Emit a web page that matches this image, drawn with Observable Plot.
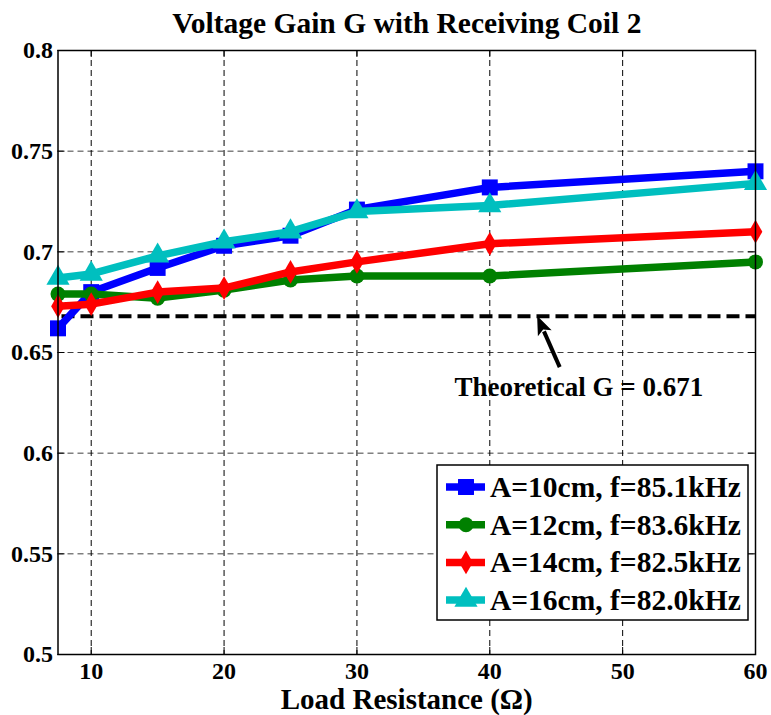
<!DOCTYPE html>
<html><head><meta charset="utf-8">
<script src="https://cdn.jsdelivr.net/npm/d3@7"></script>
<script src="https://cdn.jsdelivr.net/npm/@observablehq/plot@0.6"></script>
<style>
body{margin:0;background:#fff;}
#chart{width:771px;height:715px;}
</style>
</head><body><div id="chart"></div>
<script>
// ---- data ----
const resistance = [7.5, 10, 15, 20, 25, 30, 40, 60];
const gainA10 = [0.662, 0.680, 0.692, 0.703, 0.708, 0.721, 0.732, 0.740];
const gainA12 = [0.679, 0.679, 0.677, 0.681, 0.686, 0.688, 0.688, 0.695];
const gainA14 = [0.673, 0.674, 0.680, 0.682, 0.690, 0.695, 0.704, 0.710];
const gainA16 = [0.687, 0.689, 0.698, 0.705, 0.710, 0.720, 0.723, 0.734];
const seriesNames = ["A=10cm, f=85.1kHz", "A=12cm, f=83.6kHz", "A=14cm, f=82.5kHz", "A=16cm, f=82.0kHz"];
const seriesColors = ["#0000ff", "#008000", "#ff0000", "#00bfbf"];
const seriesSymbols = ["square", "circle", "diamond", "triangle"];
const seriesRadius = [9, 7.5, 7.2, 8.6];
const xTicks = [10, 20, 30, 40, 50, 60];
const yTicks = [0.5, 0.55, 0.6, 0.65, 0.7, 0.75, 0.8];
const titleText = "Voltage Gain G with Receiving Coil 2";
const xLabel = "Load Resistance (\u03A9)";
const theoreticalLevel = [0.668];
const theoreticalSpan = [7.8, 60];
const theoreticalText = "Theoretical G = 0.671";
const arrowTail = [45.3, 0.6425];
const arrowTip = [43.6, 0.668];
const annotationAt = [46.7, 0.6328];

const gains = [gainA10, gainA12, gainA14, gainA16];
const series = seriesNames.map((name, i) => ({
  name, color: seriesColors[i], symbol: seriesSymbols[i], r: seriesRadius[i],
  rows: resistance.map((x, j) => ({x, y: gains[i][j]}))
}));

const FONT = "'Liberation Serif', 'Times New Roman', Times, serif";
const W = 771, H = 715, ML = 57.5, MR = 16, MT = 50, MB = 61;
const FW = W - ML - MR, FH = H - MT - MB;
const TICK_FS = 24;
const fmtY = d => String(+d.toFixed(2));

const marks = [
  Plot.gridX(xTicks, {stroke: "#000", strokeOpacity: 1, strokeWidth: 1, strokeDasharray: "6,4"}),
  Plot.gridY(yTicks, {stroke: "#000", strokeOpacity: 0.75, strokeWidth: 1, strokeDasharray: "6,4"}),
  // inward ticks on all four sides
  Plot.tickX(xTicks, {x: d => d, insetTop: FH - 7, stroke: "#000", strokeWidth: 1}),
  Plot.tickX(xTicks, {x: d => d, insetBottom: FH - 7, stroke: "#000", strokeWidth: 1}),
  Plot.tickY(yTicks, {y: d => d, insetRight: FW - 7, stroke: "#000", strokeWidth: 1}),
  Plot.tickY(yTicks, {y: d => d, insetLeft: FW - 7, stroke: "#000", strokeWidth: 1}),
  // tick labels (as text marks positioned by the scales)
  Plot.text(xTicks, {x: d => d, frameAnchor: "bottom", dy: 7, lineAnchor: "top", textAnchor: "middle", text: d => String(d), fontSize: TICK_FS, fontWeight: "bold", fill: "#000"}),
  Plot.text(yTicks, {y: d => d, frameAnchor: "left", dx: -5, lineAnchor: "middle", textAnchor: "end", text: fmtY, fontSize: TICK_FS, fontWeight: "bold", fill: "#000"}),
  Plot.ruleY(theoreticalLevel, {x1: theoreticalSpan[0], x2: theoreticalSpan[1], stroke: "#000", strokeWidth: 4, strokeDasharray: "13,6"})
];
for (const s of series) {
  marks.push(Plot.line(s.rows, {x: "x", y: "y", stroke: s.color, strokeWidth: 7.5, strokeLinejoin: "round"}));
  marks.push(Plot.dot(s.rows, {x: "x", y: "y", symbol: s.symbol, r: s.r, fill: s.color, stroke: "none"}));
}
marks.push(
  Plot.text([theoreticalText], {x: annotationAt[0], y: annotationAt[1], text: d => d, fontSize: 27, fontWeight: "bold", fill: "#000", textAnchor: "middle", lineAnchor: "middle"}),
  Plot.text([titleText], {frameAnchor: "top", dy: -27, text: d => d, fontSize: 29.5, fontWeight: "bold", fill: "#000", lineAnchor: "middle"}),
  Plot.text([xLabel], {frameAnchor: "bottom", dy: 45, text: d => d, fontSize: 29, fontWeight: "bold", fill: "#000", lineAnchor: "middle"}),
  Plot.frame({stroke: "#000", strokeWidth: 1.5})
);

const plot = Plot.plot({
  width: W, height: H,
  marginLeft: ML, marginRight: MR, marginTop: MT, marginBottom: MB,
  x: {domain: [7.5, 60], axis: null},
  y: {domain: [0.5, 0.8], axis: null},
  style: {fontFamily: FONT, fontWeight: "bold", background: "#fff", color: "#000", overflow: "visible"},
  marks
});

const svg = d3.select(plot);

// arrow (shaft + filled head) using the plot's own scales
const sx = plot.scale("x"), sy = plot.scale("y");
const tx = sx.apply(arrowTail[0]), ty = sy.apply(arrowTail[1]);
const hx = sx.apply(arrowTip[0]), hy = sy.apply(arrowTip[1]);
const len = Math.hypot(hx - tx, hy - ty), ux = (hx - tx) / len, uy = (hy - ty) / len;
const headL = 19, headW = 7.5;
const bx = hx - ux * headL, by = hy - uy * headL;
const ga = svg.append("g");
ga.append("line").attr("x1", tx).attr("y1", ty).attr("x2", bx + ux * 2).attr("y2", by + uy * 2)
  .attr("stroke", "#000").attr("stroke-width", 4);
ga.append("polygon").attr("points", [
  [hx, hy], [bx - uy * headW, by + ux * headW], [bx + ux * 4, by + uy * 4], [bx + uy * headW, by - ux * headW]
].map(p => p.join(",")).join(" ")).attr("fill", "#000");

// legend box inside the frame (lower right)
const boxW = 311, boxH = 155;
const boxX = W - MR - 7 - boxW, boxY = H - MB - 34 - boxH;
const lg = svg.append("g").attr("transform", `translate(${boxX},${boxY})`);
lg.append("rect").attr("width", boxW).attr("height", boxH).attr("fill", "#fff").attr("stroke", "#000").attr("stroke-width", 1.5);
const symMap = {square: d3.symbolSquare, circle: d3.symbolCircle, diamond: d3.symbolDiamond, triangle: d3.symbolTriangle};
series.forEach((s, i) => {
  const cy = 22 + i * 37.7;
  const row = lg.append("g").attr("transform", `translate(0,${cy})`);
  row.append("line").attr("x1", 9).attr("x2", 48).attr("y1", 0).attr("y2", 0).attr("stroke", s.color).attr("stroke-width", 7.5);
  row.append("path").attr("transform", "translate(29,0)")
    .attr("d", d3.symbol(symMap[s.symbol], Math.PI * s.r * s.r)()).attr("fill", s.color);
  row.append("text").attr("x", 53).attr("y", 0).attr("dy", "0.34em").attr("text-anchor", "start")
    .attr("font-size", 29.5).attr("font-weight", "bold").attr("font-family", FONT).attr("fill", "#000").text(s.name);
});

document.getElementById("chart").appendChild(plot);
</script>
</body></html>
